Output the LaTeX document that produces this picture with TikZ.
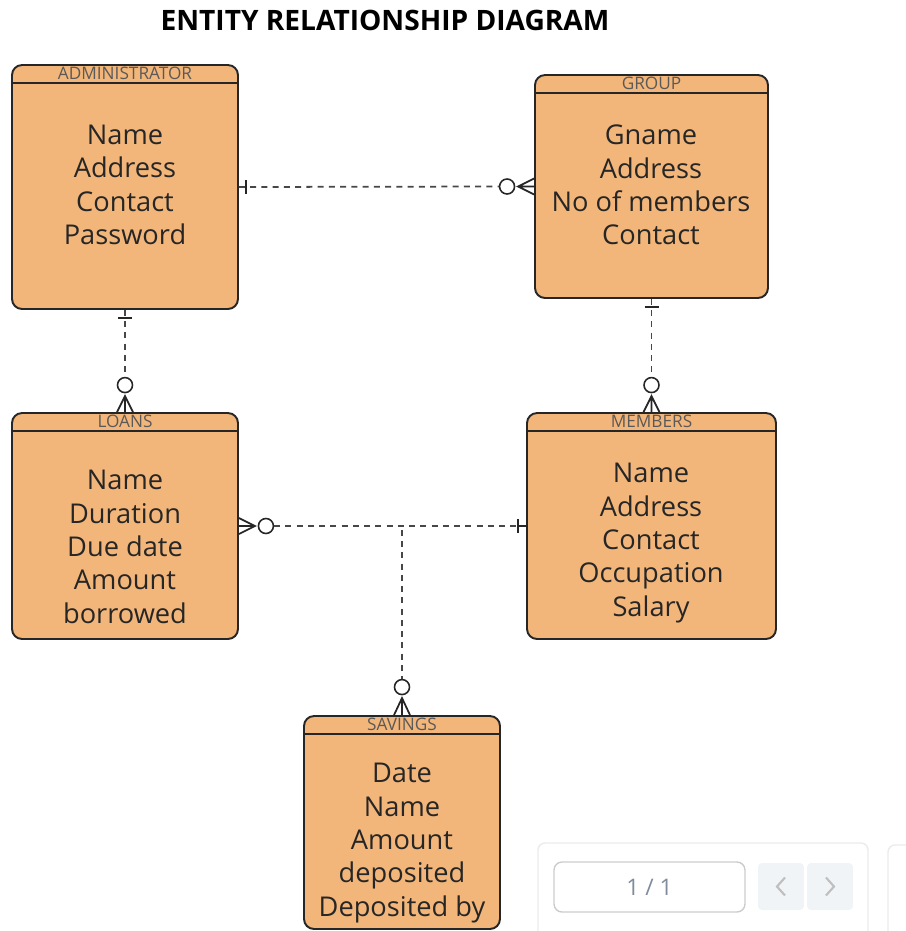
\documentclass[tikz,border=0pt]{standalone}
\usepackage{fontspec}
\setmainfont{Open Sans}
\usepackage{tikz}
\usetikzlibrary{positioning,calc}

\definecolor{entfill}{RGB}{243,182,122}
\definecolor{pagetext}{RGB}{128,139,156}
\definecolor{pagebtn}{RGB}{241,244,247}

\tikzset{
	entity/.style={draw=black!85, line width=1.1pt, fill=entfill, rounded corners=0.2cm, inner sep=0pt},
	etitle/.style={font=\fontsize{9.8}{11}\selectfont, text=black!65, inner sep=1pt},
	attrs/.style={align=center, font=\fontsize{15.5}{19}\selectfont, text=black!85},
	rel/.style={draw=black!72, line width=1pt, dash pattern=on 3.4pt off 3pt},
	erend/.style={draw=black!85, line width=1pt, solid},
	zero/.style={circle, draw=black!85, line width=0.9pt, fill=white, minimum size=0.3cm, inner sep=0pt}
}

\begin{document}
\begin{tikzpicture}[x=0.02cm,y=-0.02cm]
	\useasboundingbox (0,0) rectangle (906,931);
	\node[font=\fontsize{16}{19}\selectfont\bfseries] (title) at (385,20) {ENTITY RELATIONSHIP DIAGRAM};

	% entities
	\node[entity, minimum width=4.52cm, minimum height=4.88cm] (admin) at (125,187) {};
	\node[entity, minimum width=4.66cm, minimum height=4.46cm] (group) at (651.5,186.5) {};
	\node[entity, minimum width=4.52cm, minimum height=4.52cm] (loans) at (125,526) {};
	\node[entity, minimum width=4.98cm, minimum height=4.52cm] (members) at (651.5,526) {};
	\node[entity, minimum width=3.92cm, minimum height=4.26cm] (savings) at (402,822.5) {};

	\foreach \e/\t in {admin/ADMINISTRATOR, group/GROUP, loans/LOANS, members/MEMBERS, savings/SAVINGS}{
		\node[etitle, below=0.5pt of \e.north] (\e-t) {\t};
		\draw[line width=1.1pt, draw=black!85] ($(\e.north west)+(0,19)$) -- ($(\e.north east)+(0,19)$);
	}

	\node[attrs] (admin-a) at (125,185) {Name\\Address\\Contact\\Password};
	\node[attrs] (group-a) at (651,185) {Gname\\Address\\No of members\\Contact};
	\node[attrs] (loans-a) at (125,547) {Name\\Duration\\Due date\\Amount\\borrowed};
	\node[attrs] (members-a) at (651,543) {Name\\Address\\Contact\\Occupation\\Salary};
	\node[attrs] (savings-a) at (402,843) {Date\\Name\\Amount\\deposited\\Deposited by};

	% zero-or-many ends
	\node[zero] (o-ag) at ($(group.west)+(-27,0)$) {};
	\node[zero] (o-al) at ($(loans.north)+(0,-27)$) {};
	\node[zero] (o-gm) at ($(members.north)+(0,-27)$) {};
	\node[zero] (o-lm) at ($(loans.east)+(27,0)$) {};
	\node[zero] (o-s) at ($(savings.north)+(0,-28)$) {};
	\coordinate (j) at (savings.north |- loans.east);

	% relations
	\draw[rel] (admin.east) -- (o-ag.west);
	\draw[rel] (admin.south) -- (o-al.north);
	\draw[rel] (group.south) -- (o-gm.north);
	\draw[rel] (o-lm.east) -- (members.west);
	\draw[rel] ($(j)+(0,4)$) -- (o-s.north);

	% one ends
	\draw[erend] ($(admin.east)+(7,-7)$) -- ($(admin.east)+(7,7)$);
	\draw[erend] ($(admin.south)+(-7,8)$) -- ($(admin.south)+(7,8)$);
	\draw[erend] ($(group.south)+(-7,8)$) -- ($(group.south)+(7,8)$);
	\draw[erend] ($(members.west)+(-8,-7)$) -- ($(members.west)+(-8,7)$) ($(members.west)+(-8,0)$) -- (members.west);

	% crow's feet
	\draw[erend] ($(group.west)+(0,-8)$) -- ($(group.west)+(-16,0)$) -- ($(group.west)+(0,8)$) ($(group.west)+(-16,0)$) -- (group.west);
	\draw[erend] ($(loans.north)+(-8,0)$) -- ($(loans.north)+(0,-16)$) -- ($(loans.north)+(8,0)$) ($(loans.north)+(0,-16)$) -- (loans.north);
	\draw[erend] ($(members.north)+(-8,0)$) -- ($(members.north)+(0,-16)$) -- ($(members.north)+(8,0)$) ($(members.north)+(0,-16)$) -- (members.north);
	\draw[erend] ($(loans.east)+(0,-8)$) -- ($(loans.east)+(16,0)$) -- ($(loans.east)+(0,8)$) ($(loans.east)+(16,0)$) -- (loans.east);
	\draw[erend] ($(savings.north)+(-8,0)$) -- ($(savings.north)+(0,-17)$) -- ($(savings.north)+(8,0)$) ($(savings.north)+(0,-17)$) -- (savings.north);

	% page widget
	\draw[draw=black!8, line width=0.8pt, rounded corners=0.14cm] (538,843) rectangle (868,945);
	\draw[draw=black!8, line width=0.8pt, rounded corners=0.14cm] (888,845) rectangle (940,945);
	\node[draw=black!20, line width=0.8pt, rounded corners=0.16cm, minimum width=3.82cm, minimum height=1cm] (pagebox) at (649.5,887) {};
	\node[font=\fontsize{13}{15}\selectfont, text=pagetext] (pagenum) at (pagebox) {1 / 1};
	\node[fill=pagebtn, rounded corners=0.08cm, minimum width=0.92cm, minimum height=0.94cm] (pageprev) at (781,886.5) {};
	\node[fill=pagebtn, rounded corners=0.08cm, minimum width=0.92cm, minimum height=0.94cm] (pagenext) at (830,886.5) {};
	\draw[draw=black!25, line width=1.2pt] ($(pageprev)+(4,-9)$) -- ($(pageprev)+(-4,0)$) -- ($(pageprev)+(4,9)$);
	\draw[draw=black!25, line width=1.2pt] ($(pagenext)+(-4,-9)$) -- ($(pagenext)+(4,0)$) -- ($(pagenext)+(-4,9)$);
\end{tikzpicture}
\end{document}
